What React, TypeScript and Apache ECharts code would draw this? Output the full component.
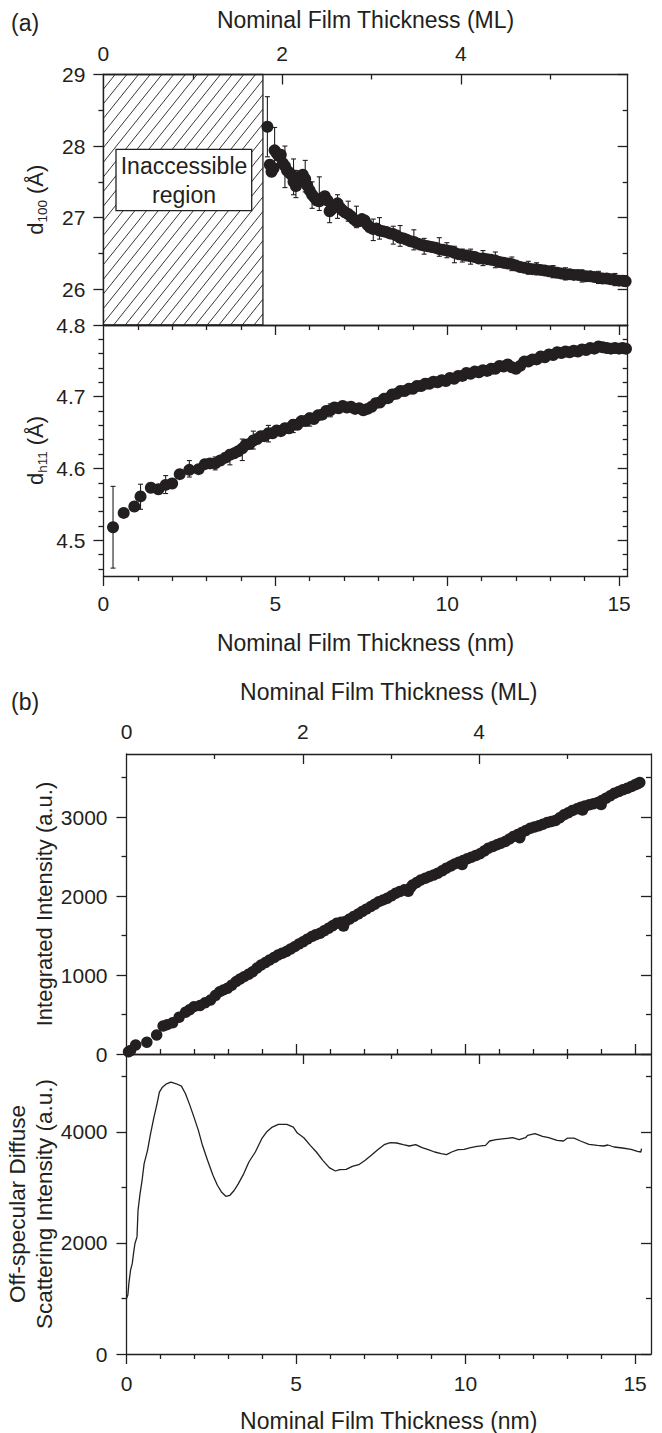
import React, { useEffect, useRef } from "react";
import * as echarts from "echarts";

const FONT = "'Liberation Sans', Arial, Helvetica, sans-serif";
const INK = "#231f20";

const NM_PER_ML = 2.6;
const X_MAX_A = 15.25;
const X_MAX_B = 15.47;
const INACCESSIBLE_END = 4.64;

// tick / label values
const nmLabels = [0, 5, 10, 15];
const nmMajorInside = [5, 10, 15];
const nmMinor = [1, 2, 3, 4, 6, 7, 8, 9, 11, 12, 13, 14];
const mlLabels = [0, 2, 4];
const mlMajor = [2, 4];
const mlMinor = [1, 3, 5];
const d100Ticks = [26, 27, 28, 29];
const d100Minor = [26.5, 27.5, 28.5];
const dh11Ticks = [4.5, 4.6, 4.7, 4.8];
const dh11Minor = [4.46, 4.48, 4.52, 4.54, 4.56, 4.58, 4.62, 4.64, 4.66, 4.68, 4.72, 4.74, 4.76, 4.78];
const intTicks = [0, 1000, 2000, 3000];
const intMinor = [500, 1500, 2500, 3500];
const offTicks = [0, 2000, 4000];
const offMinor = [1000, 3000, 5000];

// (a) top: d100 spacing (Å) vs thickness (nm)
const d100Points: [number, number][] = [
  [4.77, 28.27], [4.84, 27.74], [4.89, 27.64], [4.95, 27.69], [4.98, 27.94], [5.04, 27.9], [5.1, 27.86],
  [5.16, 27.88], [5.22, 27.76], [5.28, 27.72], [5.34, 27.66], [5.4, 27.63], [5.47, 27.6], [5.53, 27.5],
  [5.6, 27.44], [5.66, 27.5], [5.73, 27.58], [5.8, 27.6], [5.87, 27.54], [5.93, 27.45], [6.0, 27.38],
  [6.07, 27.32], [6.14, 27.28], [6.21, 27.24], [6.28, 27.23], [6.36, 27.27], [6.44, 27.3], [6.52, 27.24],
  [6.58, 27.09], [6.65, 27.12], [6.73, 27.17], [6.81, 27.2], [6.88, 27.14], [6.96, 27.1], [7.04, 27.07],
  [7.12, 27.05], [7.2, 27.02], [7.28, 26.98], [7.36, 26.95], [7.44, 26.95], [7.52, 26.98], [7.6, 26.96],
  [7.68, 26.9], [7.76, 26.86], [7.85, 26.84], [7.94, 26.85], [8.03, 26.82], [8.13, 26.81], [8.23, 26.8],
  [8.33, 26.78], [8.43, 26.77], [8.53, 26.75], [8.63, 26.72], [8.73, 26.71], [8.83, 26.69], [8.93, 26.67],
  [9.03, 26.66], [9.13, 26.64], [9.23, 26.62], [9.33, 26.61], [9.44, 26.6], [9.55, 26.59], [9.66, 26.58],
  [9.77, 26.56], [9.88, 26.55], [9.99, 26.54], [10.1, 26.53], [10.21, 26.51], [10.32, 26.49], [10.44, 26.48],
  [10.56, 26.47], [10.68, 26.46], [10.8, 26.45], [10.92, 26.43], [11.04, 26.43], [11.16, 26.42], [11.28, 26.41],
  [11.4, 26.4], [11.52, 26.38], [11.64, 26.37], [11.76, 26.36], [11.88, 26.35], [12.0, 26.33], [12.12, 26.31],
  [12.24, 26.3], [12.36, 26.29], [12.48, 26.28], [12.6, 26.28], [12.72, 26.27], [12.84, 26.26], [12.96, 26.25],
  [13.08, 26.24], [13.2, 26.23], [13.32, 26.22], [13.44, 26.21], [13.56, 26.21], [13.68, 26.2], [13.8, 26.2],
  [13.92, 26.19], [14.04, 26.18], [14.16, 26.18], [14.28, 26.17], [14.4, 26.16], [14.52, 26.15], [14.64, 26.15],
  [14.76, 26.14], [14.88, 26.13], [15.0, 26.12], [15.1, 26.12], [15.19, 26.11],
];
// [thickness, low, high]
const d100Errors: [number, number, number][] = [
  [4.77, 27.85, 28.69], [4.98, 27.68, 28.26], [5.28, 27.42, 28.0], [5.53, 27.32, 27.82], [5.6, 27.28, 27.66],
  [5.87, 27.36, 27.8], [6.07, 27.13, 27.5], [6.28, 27.1, 27.57], [6.58, 26.93, 27.25], [6.81, 26.99, 27.32],
  [7.12, 26.95, 27.23], [7.36, 26.86, 27.16], [7.85, 26.68, 26.98], [8.03, 26.7, 27.0], [8.43, 26.63, 26.88],
  [8.63, 26.6, 26.89], [9.03, 26.55, 26.83], [9.33, 26.49, 26.71], [9.77, 26.46, 26.72], [9.99, 26.44, 26.65],
  [10.21, 26.37, 26.6], [10.44, 26.38, 26.56], [10.68, 26.35, 26.56], [11.04, 26.33, 26.54], [11.4, 26.3, 26.52],
  [11.88, 26.26, 26.45], [12.36, 26.21, 26.39], [12.6, 26.2, 26.37], [13.08, 26.16, 26.33], [13.44, 26.13, 26.3],
  [13.92, 26.1, 26.27], [14.4, 26.08, 26.25], [14.88, 26.05, 26.22], [15.19, 26.04, 26.19],
];

// (a) bottom: dh11 spacing (Å)
const dh11Points: [number, number][] = [
  [0.28, 4.518], [0.59, 4.538], [0.9, 4.547], [1.08, 4.561], [1.38, 4.573], [1.6, 4.571], [1.81, 4.577],
  [2.0, 4.579], [2.22, 4.592], [2.5, 4.598], [2.77, 4.599], [2.95, 4.606], [3.1, 4.607], [3.25, 4.607],
  [3.4, 4.611], [3.55, 4.615], [3.68, 4.619], [3.8, 4.621], [3.92, 4.624], [4.04, 4.628], [4.14, 4.633],
  [4.25, 4.634], [4.36, 4.639], [4.47, 4.641], [4.58, 4.645], [4.68, 4.645], [4.8, 4.649], [4.92, 4.649],
  [5.04, 4.653], [5.16, 4.652], [5.28, 4.656], [5.4, 4.656], [5.52, 4.661], [5.64, 4.661], [5.76, 4.666],
  [5.88, 4.666], [6.0, 4.670], [6.12, 4.669], [6.24, 4.674], [6.36, 4.675], [6.48, 4.680], [6.6, 4.681],
  [6.72, 4.685], [6.84, 4.684], [6.96, 4.687], [7.08, 4.685], [7.2, 4.686], [7.32, 4.683], [7.44, 4.684],
  [7.56, 4.681], [7.68, 4.683], [7.8, 4.686], [7.92, 4.691], [8.04, 4.692], [8.16, 4.697], [8.28, 4.698],
  [8.4, 4.703], [8.52, 4.704], [8.64, 4.708], [8.76, 4.708], [8.88, 4.711], [9.0, 4.711], [9.12, 4.715],
  [9.24, 4.715], [9.36, 4.718], [9.48, 4.718], [9.6, 4.721], [9.72, 4.72], [9.84, 4.723], [9.96, 4.722],
  [10.08, 4.726], [10.2, 4.725], [10.32, 4.729], [10.44, 4.729], [10.56, 4.733], [10.68, 4.732], [10.8, 4.735],
  [10.92, 4.734], [11.04, 4.737], [11.16, 4.736], [11.28, 4.739], [11.4, 4.739], [11.52, 4.743], [11.64, 4.742],
  [11.76, 4.745], [11.88, 4.741], [12.0, 4.739], [12.12, 4.743], [12.24, 4.749], [12.36, 4.749], [12.48, 4.752],
  [12.6, 4.752], [12.72, 4.756], [12.84, 4.755], [12.96, 4.759], [13.08, 4.758], [13.2, 4.762], [13.32, 4.761],
  [13.44, 4.763], [13.56, 4.762], [13.68, 4.764], [13.8, 4.763], [13.92, 4.766], [14.04, 4.765], [14.16, 4.768],
  [14.28, 4.767], [14.4, 4.770], [14.52, 4.769], [14.64, 4.768], [14.76, 4.767], [14.88, 4.768], [15.0, 4.767],
  [15.1, 4.768], [15.2, 4.767],
];
const dh11Errors: [number, number, number][] = [
  [0.28, 4.461, 4.575], [1.08, 4.543, 4.578], [1.81, 4.565, 4.59], [2.5, 4.588, 4.611], [3.25, 4.598, 4.616],
  [3.68, 4.605, 4.626], [4.04, 4.611, 4.641], [4.36, 4.627, 4.652], [4.8, 4.637, 4.66], [5.52, 4.65, 4.668],
  [6.0, 4.659, 4.677], [6.6, 4.672, 4.69],
];

// (b) top: integrated intensity (a.u.)
const intPoints: [number, number][] = [
  [0.06, 29], [0.12, 45], [0.27, 114], [0.6, 150], [0.89, 241], [1.08, 355], [1.2, 372], [1.36, 395],
  [1.55, 465], [1.74, 528], [1.86, 560], [1.99, 600], [2.17, 615], [2.32, 650], [2.48, 684], [2.62, 740],
  [2.75, 790], [2.86, 812], [2.98, 833], [3.1, 870], [3.23, 917], [3.35, 950], [3.47, 980], [3.6, 1010],
  [3.72, 1043], [3.85, 1090], [3.97, 1128], [4.1, 1160], [4.22, 1191], [4.35, 1222], [4.47, 1255], [4.59, 1275],
  [4.71, 1297], [4.84, 1330], [4.96, 1360], [5.08, 1392], [5.21, 1423], [5.33, 1455], [5.46, 1487], [5.58, 1510],
  [5.71, 1530], [5.83, 1560], [5.96, 1593], [6.08, 1625], [6.2, 1657], [6.33, 1668], [6.4, 1620], [6.45, 1677],
  [6.58, 1710], [6.7, 1741], [6.83, 1772], [6.95, 1804], [7.07, 1835], [7.2, 1867], [7.32, 1898], [7.44, 1930],
  [7.57, 1952], [7.69, 1973], [7.82, 2005], [7.94, 2037], [8.06, 2058], [8.19, 2079], [8.31, 2060], [8.38, 2110],
  [8.44, 2142], [8.56, 2173], [8.68, 2205], [8.81, 2226], [8.93, 2247], [9.06, 2268], [9.18, 2290], [9.31, 2321],
  [9.43, 2353], [9.56, 2380], [9.68, 2408], [9.8, 2430], [9.9, 2400], [9.93, 2450], [10.05, 2472], [10.17, 2493],
  [10.3, 2514], [10.42, 2535], [10.55, 2571], [10.67, 2607], [10.8, 2628], [10.92, 2649], [11.04, 2670],
  [11.17, 2691], [11.29, 2722], [11.41, 2754], [11.54, 2780], [11.6, 2740], [11.66, 2805], [11.78, 2832],
  [11.91, 2860], [12.03, 2875], [12.16, 2890], [12.28, 2911], [12.41, 2932], [12.53, 2945], [12.65, 2957],
  [12.78, 2993], [12.9, 3029], [13.03, 3056], [13.15, 3084], [13.28, 3105], [13.4, 3127], [13.45, 3090],
  [13.52, 3141], [13.65, 3156], [13.77, 3170], [13.9, 3185], [14.0, 3160], [14.02, 3212], [14.14, 3240],
  [14.27, 3272], [14.39, 3304], [14.52, 3325], [14.64, 3346], [14.77, 3367], [14.89, 3388], [15.0, 3410],
  [15.07, 3422], [15.14, 3440],
];

// (b) bottom: off-specular diffuse scattering intensity (a.u.)
const diffusePoints: [number, number][] = [
  [0.0, 1000], [0.04, 1060], [0.07, 1270], [0.12, 1510], [0.17, 1630], [0.22, 1869], [0.25, 1989],
  [0.31, 2108], [0.34, 2588], [0.4, 2887], [0.46, 3127], [0.52, 3426], [0.62, 3666], [0.71, 3965],
  [0.81, 4264], [0.9, 4504], [0.97, 4714], [1.06, 4803], [1.18, 4864], [1.31, 4893], [1.47, 4864],
  [1.62, 4822], [1.74, 4684], [1.87, 4475], [1.99, 4264], [2.12, 4025], [2.24, 3756], [2.39, 3486],
  [2.55, 3217], [2.68, 3037], [2.8, 2917], [2.93, 2839], [3.05, 2857], [3.18, 2947], [3.3, 3067],
  [3.46, 3247], [3.61, 3456], [3.8, 3636], [3.99, 3876], [4.13, 3995], [4.3, 4085], [4.48, 4133],
  [4.73, 4133], [4.92, 4085], [5.04, 3977], [5.23, 3893], [5.42, 3756], [5.6, 3636], [5.79, 3486],
  [5.98, 3354], [6.16, 3294], [6.29, 3319], [6.48, 3324], [6.66, 3378], [6.85, 3408], [7.04, 3486],
  [7.22, 3576], [7.41, 3678], [7.6, 3768], [7.78, 3804], [7.97, 3798], [8.16, 3768], [8.34, 3744],
  [8.53, 3768], [8.72, 3714], [8.9, 3678], [9.09, 3636], [9.28, 3606], [9.44, 3588], [9.59, 3636],
  [9.78, 3678], [9.96, 3684], [10.15, 3714], [10.34, 3738], [10.59, 3756], [10.71, 3834], [10.9, 3858],
  [11.15, 3876], [11.39, 3893], [11.58, 3858], [11.77, 3893], [11.83, 3936], [12.05, 3965], [12.27, 3917],
  [12.45, 3893], [12.7, 3846], [12.89, 3834], [13.01, 3887], [13.2, 3887], [13.39, 3834], [13.64, 3774],
  [13.89, 3756], [14.07, 3744], [14.2, 3762], [14.38, 3726], [14.63, 3708], [14.88, 3684], [15.07, 3648],
  [15.17, 3636], [15.19, 3696],
];

const plainNumber = (v: number) => String(v);

function axis(o: any) {
  return {
    type: "value",
    gridIndex: o.grid,
    position: o.position,
    min: o.min,
    max: o.max,
    splitLine: { show: false },
    axisLine: { show: !!o.line, onZero: false, lineStyle: { color: INK, width: 1.3 } },
    axisTick: o.ticks
      ? { show: true, inside: !!o.inside, length: o.len, customValues: o.ticks, lineStyle: { color: INK, width: 1.3 } }
      : { show: false },
    axisLabel: o.labels
      ? { show: true, customValues: o.labels, margin: o.margin, fontFamily: FONT, fontSize: 21, color: INK, formatter: plainNumber }
      : { show: false },
    name: o.name,
    nameLocation: "middle",
    nameGap: o.nameGap,
    nameMoveOverlap: false,
    nameTextStyle: o.nameStyle || { fontFamily: FONT, fontSize: 23, color: INK },
  };
}

const subRich = {
  n: { fontFamily: FONT, fontSize: 22, lineHeight: 27, color: INK },
  s: { fontFamily: FONT, fontSize: 13.5, lineHeight: 13, verticalAlign: "bottom", color: INK },
};

function buildOption() {
  const mlA = X_MAX_A / NM_PER_ML;
  const mlB = X_MAX_B / NM_PER_ML;
  const xAxis = [
    axis({ grid: 0, position: "bottom", min: 0, max: X_MAX_A, line: true }),
    axis({ grid: 0, position: "top", min: 0, max: mlA, line: true, ticks: mlMajor, len: 10, inside: true,
      labels: mlLabels, margin: 11, name: "Nominal Film Thickness (ML)", nameGap: 43 }),
    axis({ grid: 0, position: "top", min: 0, max: mlA, ticks: mlMinor, len: 5, inside: true }),
    axis({ grid: 1, position: "bottom", min: 0, max: X_MAX_A, line: true, ticks: nmLabels, len: 10,
      labels: nmLabels, margin: 17, name: "Nominal Film Thickness (nm)", nameGap: 55 }),
    axis({ grid: 1, position: "bottom", min: 0, max: X_MAX_A, ticks: nmMinor, len: 5 }),
    axis({ grid: 1, position: "top", min: 0, max: X_MAX_A, line: true, ticks: nmMajorInside, len: 10, inside: true }),
    axis({ grid: 1, position: "top", min: 0, max: X_MAX_A, ticks: nmMinor, len: 5, inside: true }),
    axis({ grid: 2, position: "bottom", min: 0, max: X_MAX_B, line: true, ticks: nmMajorInside, len: 10, inside: true }),
    axis({ grid: 2, position: "bottom", min: 0, max: X_MAX_B, ticks: nmMinor, len: 5, inside: true }),
    axis({ grid: 2, position: "top", min: 0, max: mlB, line: true, ticks: mlMajor, len: 10, inside: true,
      labels: mlLabels, margin: 12, name: "Nominal Film Thickness (ML)", nameGap: 51 }),
    axis({ grid: 2, position: "top", min: 0, max: mlB, ticks: mlMinor, len: 5, inside: true }),
    axis({ grid: 3, position: "bottom", min: 0, max: X_MAX_B, line: true, ticks: nmLabels, len: 10,
      labels: nmLabels, margin: 19, name: "Nominal Film Thickness (nm)", nameGap: 55 }),
    axis({ grid: 3, position: "bottom", min: 0, max: X_MAX_B, ticks: nmMinor, len: 5 }),
    axis({ grid: 3, position: "top", min: 0, max: mlB, line: true, ticks: mlMajor, len: 10, inside: true }),
    axis({ grid: 3, position: "top", min: 0, max: mlB, ticks: mlMinor, len: 5, inside: true }),
  ];

  const yAxis = [
    axis({ grid: 0, position: "left", min: 25.5, max: 29, line: true, ticks: d100Ticks, len: 10,
      labels: d100Ticks, margin: 18, name: "{n|d}{s|100}{n| (Å)}", nameGap: 54,
      nameStyle: { fontFamily: FONT, color: INK, rich: subRich } }),
    axis({ grid: 0, position: "left", min: 25.5, max: 29, ticks: d100Minor, len: 5 }),
    axis({ grid: 0, position: "right", min: 25.5, max: 29, line: true, ticks: d100Ticks, len: 10, inside: true }),
    axis({ grid: 0, position: "right", min: 25.5, max: 29, ticks: d100Minor, len: 5, inside: true }),
    axis({ grid: 1, position: "left", min: 4.45, max: 4.8, line: true, ticks: dh11Ticks, len: 10,
      labels: dh11Ticks, margin: 18, name: "{n|d}{s|h11}{n| (Å)}", nameGap: 54,
      nameStyle: { fontFamily: FONT, color: INK, rich: subRich } }),
    axis({ grid: 1, position: "left", min: 4.45, max: 4.8, ticks: dh11Minor, len: 5 }),
    axis({ grid: 1, position: "right", min: 4.45, max: 4.8, line: true, ticks: dh11Ticks, len: 10, inside: true }),
    axis({ grid: 1, position: "right", min: 4.45, max: 4.8, ticks: dh11Minor, len: 5, inside: true }),
    axis({ grid: 2, position: "left", min: 0, max: 3800, line: true, ticks: intTicks, len: 10,
      labels: intTicks, margin: 19, name: "Integrated Intensity (a.u.)", nameGap: 71,
      nameStyle: { fontFamily: FONT, fontSize: 22, color: INK } }),
    axis({ grid: 2, position: "left", min: 0, max: 3800, ticks: intMinor, len: 5 }),
    axis({ grid: 2, position: "right", min: 0, max: 3800, line: true, ticks: intTicks, len: 10, inside: true }),
    axis({ grid: 2, position: "right", min: 0, max: 3800, ticks: intMinor, len: 5, inside: true }),
    axis({ grid: 3, position: "left", min: 0, max: 5400, line: true, ticks: offTicks, len: 10,
      labels: offTicks, margin: 19, name: "Off-specular Diffuse\nScattering Intensity (a.u.)", nameGap: 69,
      nameStyle: { fontFamily: FONT, fontSize: 22.5, lineHeight: 27, color: INK } }),
    axis({ grid: 3, position: "left", min: 0, max: 5400, ticks: offMinor, len: 5 }),
    axis({ grid: 3, position: "right", min: 0, max: 5400, line: true, ticks: offTicks, len: 10, inside: true }),
    axis({ grid: 3, position: "right", min: 0, max: 5400, ticks: offMinor, len: 5, inside: true }),
  ];

  const errorBarRender = (params: any, api: any) => {
    const x = api.value(0);
    const a = api.coord([x, api.value(1)]);
    const b = api.coord([x, api.value(2)]);
    const w = 2.5;
    const st = { stroke: INK, lineWidth: 1.1 };
    return {
      type: "group",
      children: [
        { type: "line", shape: { x1: a[0], y1: a[1], x2: b[0], y2: b[1] }, style: st },
        { type: "line", shape: { x1: a[0] - w, y1: a[1], x2: a[0] + w, y2: a[1] }, style: st },
        { type: "line", shape: { x1: b[0] - w, y1: b[1], x2: b[0] + w, y2: b[1] }, style: st },
      ],
    };
  };

  const hatchRender = (params: any, api: any) => {
    const p0 = api.coord([api.value(0), api.value(3)]);
    const p1 = api.coord([api.value(1), api.value(2)]);
    const x0 = p0[0], y0 = p0[1], x1 = p1[0], y1 = p1[1];
    const h = y1 - y0;
    const slope = 1.25;
    const step = 11.7;
    const children: any[] = [];
    for (let c = x0 - h / slope; c < x1; c += step) {
      let xs = c, ys = y1, xe = c + h / slope, ye = y0;
      if (xs < x0) { ys = y1 - slope * (x0 - c); xs = x0; }
      if (xe > x1) { ye = y1 - slope * (x1 - c); xe = x1; }
      if (xe <= xs) continue;
      children.push({ type: "line", shape: { x1: xs, y1: ys, x2: xe, y2: ye }, style: { stroke: INK, lineWidth: 0.9 } });
    }
    children.push({
      type: "rect",
      shape: { x: x0, y: y0, width: x1 - x0, height: h },
      style: { fill: "none", stroke: INK, lineWidth: 1.3 },
    });
    return { type: "group", children };
  };

  const dot = { color: INK, opacity: 1 };

  const series = [
    {
      type: "custom", name: "Inaccessible region", xAxisIndex: 0, yAxisIndex: 0,
      renderItem: hatchRender, data: [[0, INACCESSIBLE_END, 25.5, 29]], encode: { x: [0, 1], y: [2, 3] }, clip: false, z: 1,
    },
    {
      type: "custom", name: "d100 error", xAxisIndex: 0, yAxisIndex: 0,
      renderItem: errorBarRender, data: d100Errors, encode: { x: 0, y: [1, 2] }, z: 2,
    },
    {
      type: "scatter", name: "d100", xAxisIndex: 0, yAxisIndex: 0, data: d100Points,
      symbol: "circle", symbolSize: 12, itemStyle: dot, z: 3,
    },
    {
      type: "custom", name: "dh11 error", xAxisIndex: 3, yAxisIndex: 4,
      renderItem: errorBarRender, data: dh11Errors, encode: { x: 0, y: [1, 2] }, z: 2,
    },
    {
      type: "scatter", name: "dh11", xAxisIndex: 3, yAxisIndex: 4, data: dh11Points,
      symbol: "circle", symbolSize: 12, itemStyle: dot, z: 3,
    },
    {
      type: "scatter", name: "Integrated Intensity", xAxisIndex: 7, yAxisIndex: 8, data: intPoints,
      symbol: "circle", symbolSize: 11.5, itemStyle: dot, z: 3,
    },
    {
      type: "line", name: "Off-specular Diffuse Scattering", xAxisIndex: 11, yAxisIndex: 12, data: diffusePoints,
      showSymbol: false, symbol: "none", lineStyle: { color: INK, width: 1.3 }, z: 3,
    },
  ];

  const graphic = [
    { type: "text", x: 11, y: 23, z: 100, style: { text: "(a)", fontFamily: FONT, fontSize: 23, fill: INK, verticalAlign: "middle" } },
    { type: "text", x: 11, y: 702, z: 100, style: { text: "(b)", fontFamily: FONT, fontSize: 23, fill: INK, verticalAlign: "middle" } },
    {
      type: "rect", z: 100, shape: { x: 116, y: 149.3, width: 135.7, height: 61.4 },
      style: { fill: "#ffffff", stroke: INK, lineWidth: 1.3 },
    },
    {
      type: "text", z: 101, x: 184, y: 180.5,
      style: { text: "Inaccessible\nregion", fontFamily: FONT, fontSize: 23, lineHeight: 29, fill: INK, align: "center", verticalAlign: "middle" },
    },
  ];

  const gridBase = { outerBoundsMode: "none", containLabel: false };

  return {
    animation: false,
    backgroundColor: "#ffffff",
    grid: [
      { ...gridBase, left: 103.4, top: 74.5, width: 524.3, height: 250.5 },
      { ...gridBase, left: 103.4, top: 325, width: 524.3, height: 251 },
      { ...gridBase, left: 126.5, top: 754, width: 524.5, height: 300 },
      { ...gridBase, left: 126.5, top: 1054, width: 524.5, height: 300 },
    ],
    xAxis,
    yAxis,
    series,
    graphic,
  };
}

export default function App() {
  const ref = useRef<HTMLDivElement>(null);
  useEffect(() => {
    if (!ref.current) return;
    const chart = echarts.init(ref.current, undefined, { renderer: "svg" });
    chart.setOption(buildOption() as any);
    return () => chart.dispose();
  }, []);
  return (
    <div
      ref={ref}
      style={{ position: "absolute", left: 0, top: 0, width: 662, height: 1433, background: "#fff" }}
    />
  );
}
